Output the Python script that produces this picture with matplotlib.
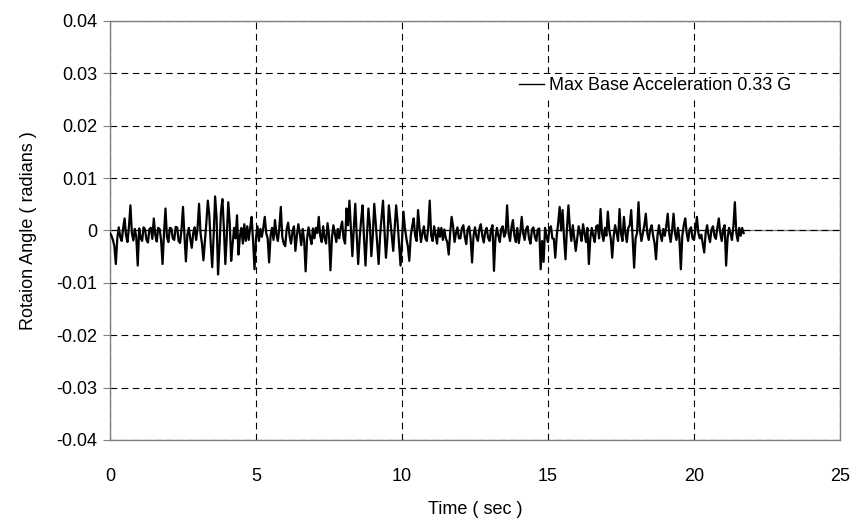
import numpy as np
import matplotlib
matplotlib.use("Agg")
import matplotlib.pyplot as plt

plt.rcParams['font.family'] = ['Liberation Sans', 'DejaVu Sans']

# rotation angle, in 1e-3 rad, one row per second, 0.05 s apart
dt = 0.05
angle_milli = [
    [-0.5, -1.0, -1.8, -3.0, -6.4, -1.5, 0.6, -1.2, -2.0, 0.4, 2.3, -1.0, -2.2, 0.8, 4.8, -0.5, -1.9, 0.3, -1.2, -6.7],
    [0.4, -1.5, -2.0, 0.6, 0.2, -1.8, -2.3, 0.3, 0.5, -1.6, 2.3, -0.8, -2.1, 0.5, 0.3, -1.9, -6.4, -0.5, 4.2, -1.2],
    [-2.2, 0.5, 0.4, -1.5, -1.8, 0.7, 0.6, -2.0, -2.4, 0.3, 4.5, -1.0, -5.9, -0.8, 0.5, -1.6, -3.3, -0.5, 0.6, -1.8],
    [0.5, 5.1, -0.5, -2.5, -5.7, -2.0, 1.5, 5.7, 3.0, -2.5, -7.0, -1.0, 6.5, 2.5, -8.4, -3.0, 3.5, 6.0, 0.5, -6.4],
    [-1.0, 5.4, 1.5, -5.8, -2.5, 0.5, -1.5, 2.9, -4.6, -1.0, 0.5, -2.5, 1.2, -2.0, 0.8, -1.8, 0.5, 2.6, -2.0, -7.4],
    [-1.5, 0.8, -2.0, 0.3, -1.2, 0.5, 2.6, -0.5, -1.5, -6.1, -1.0, 0.5, -1.8, 2.0, -0.8, -2.0, 0.6, 4.5, -1.2, -2.5],
    [-3.0, 0.2, 1.5, -1.0, -2.5, -0.2, 0.8, -3.9, -1.0, 1.2, -0.5, -2.8, 0.3, -2.0, -7.8, -1.5, 0.6, -1.2, -2.6, 0.4],
    [-1.5, 0.5, -0.5, 2.6, -1.0, -2.2, 0.8, -1.5, -2.5, 1.4, -0.8, -7.6, -1.5, 1.0, -0.5, -2.2, 0.3, -1.5, 0.5, 1.7],
    [-1.5, -2.5, 4.2, 1.0, 5.7, 0.5, -4.9, 0.5, 5.1, -1.0, -6.4, -1.5, 2.0, 4.8, -1.5, -6.7, -1.0, 4.2, 1.0, -4.9],
    [-1.0, 5.1, 1.5, -2.5, -6.4, -1.0, 2.5, 5.7, 0.0, -5.2, -1.5, 4.8, 2.0, -1.0, -3.9, 0.5, 4.8, 1.5, -2.5, -6.7],
    [-2.0, 3.6, 0.5, -1.5, -3.0, -5.8, -1.0, 0.8, 2.3, -1.0, -2.0, 3.9, 0.5, -2.2, -0.5, 0.8, -1.5, -2.0, 0.6, 5.7],
    [-1.0, -2.0, 0.8, -0.8, -2.5, 0.5, -1.2, 0.5, -1.8, 0.2, -1.5, -2.2, -4.6, -0.5, 2.6, 0.8, -2.2, -0.5, 0.6, -1.5],
    [-1.5, 0.4, 1.0, -1.2, -2.6, 0.2, 0.8, -1.5, -6.1, -1.0, 0.6, -1.2, -2.0, 0.3, 1.2, -1.0, -2.3, -0.2, 0.5, -1.4],
    [-2.0, 0.2, 1.0, -7.7, -1.5, 0.5, -1.0, -2.2, 0.3, 0.8, -1.2, -0.5, 4.8, -0.5, -2.0, 0.6, 2.0, -1.0, -2.2, 0.5],
    [-2.4, -0.5, 2.6, -0.5, -1.8, 0.3, 0.8, -1.5, -2.5, 0.2, 0.6, -1.2, -2.0, 0.2, 0.4, -7.4, -2.0, -6.0, 0.5, -1.2],
    [-2.2, 0.3, 0.8, -1.5, -1.6, -5.2, -1.0, 1.5, 4.5, 0.0, 3.9, -1.5, -5.5, 0.5, 4.8, 0.5, -2.0, 1.0, -1.5, -3.9],
    [-1.5, 0.8, -0.5, -2.0, 1.2, -0.5, -2.2, 0.5, -6.4, -1.5, 0.5, -1.0, -2.2, 0.8, 1.0, -1.5, 4.1, -0.5, -2.0, 0.5],
    [-1.0, 3.6, 0.0, -1.5, -5.2, -1.0, 1.0, -0.5, -2.0, 4.1, -0.5, -2.0, 2.6, -0.5, -2.2, 0.5, 1.0, 3.9, -1.5, -7.1],
    [-1.5, -0.5, 5.4, 0.0, -2.0, -0.5, 1.0, 3.2, -0.5, -1.8, 0.2, 1.0, -1.0, -2.4, -5.5, -1.0, 1.0, -0.8, -2.0, 0.3],
    [-1.0, 0.8, 3.2, -0.5, -2.2, 0.0, 3.2, -0.5, -1.8, 0.5, -1.5, -7.4, -1.0, 1.0, 2.3, -0.5, -2.0, 0.2, 0.6, -1.5],
    [-1.8, 0.2, 2.6, -0.5, -1.5, -0.8, -2.5, -4.2, -0.5, 1.0, -1.0, -2.2, 0.2, 0.8, -1.0, -1.6, 0.5, 2.3, -0.5, -2.0],
    [0.3, 1.0, -6.7, -1.5, 0.5, -0.5, -1.8, 0.8, 5.4, -0.5, -2.0, 0.5, -1.0, 0.5, -0.5],
]

x_ticks = [0, 5, 10, 15, 20, 25]
y_ticks = [-0.04, -0.03, -0.02, -0.01, 0, 0.01, 0.02, 0.03, 0.04]
y_labels = ['-0.04', '-0.03', '-0.02', '-0.01', '0', '0.01', '0.02', '0.03', '0.04']

values = np.concatenate([np.array(r) for r in angle_milli]) * 1e-3
time = np.arange(len(values)) * dt

fig = plt.figure(figsize=(8.58, 5.26), dpi=100)
ax = fig.add_axes([0.1282, 0.1635, 0.8508, 0.7966])

ax.axhline(0, color='#808080', lw=1.0, zorder=1)
ax.plot(time, values, color='black', lw=1.6, zorder=3,
        label='Max Base Acceleration 0.33 G')

ax.set_xlim(0, 25)
ax.set_ylim(-0.04, 0.04)
ax.set_xticks(x_ticks)
ax.set_yticks(y_ticks)
ax.set_yticklabels(y_labels)

ax.grid(True, color='black', linestyle=(0, (6, 4)), linewidth=0.8, zorder=0)
for s in ax.spines.values():
    s.set_color('#808080')
    s.set_linewidth(1.0)

ax.tick_params(axis='y', direction='out', length=5, color='#808080',
               labelsize=13, pad=4)
ax.tick_params(axis='x', length=0, labelsize=13, pad=20)

ax.set_xlabel('Time ( sec )', fontsize=13, labelpad=12)
ax.set_ylabel('Rotaion Angle ( radians )', fontsize=13, labelpad=14)

leg = ax.legend(loc='center left', bbox_to_anchor=(0.555, 0.845),
                fontsize=13, frameon=True, fancybox=False,
                handlelength=1.4, handletextpad=0.25, borderpad=0.2,
                borderaxespad=0)
leg.get_frame().set_facecolor('white')
leg.get_frame().set_edgecolor('none')
leg.get_frame().set_alpha(1.0)
leg.get_lines()[0].set_linewidth(1.0)

fig.savefig('out.png', dpi=100)
